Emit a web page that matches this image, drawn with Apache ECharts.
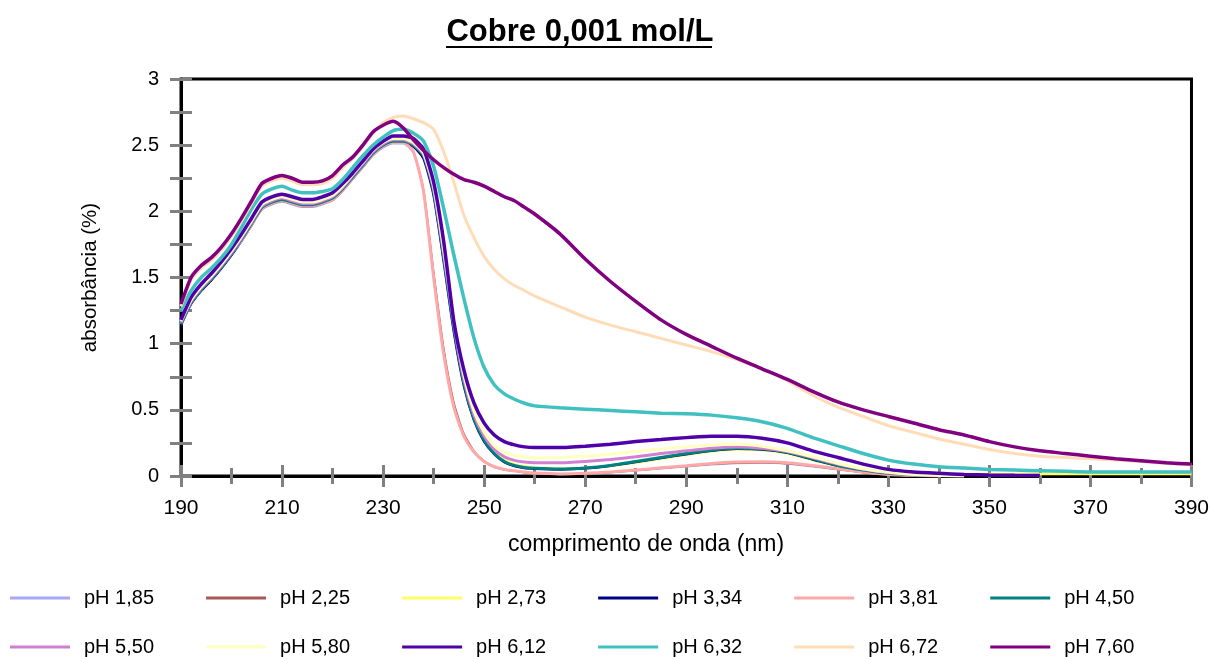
<!DOCTYPE html>
<html><head><meta charset="utf-8">
<script src="https://cdn.jsdelivr.net/npm/echarts@6/dist/echarts.min.js"></script>
<style>html,body{margin:0;padding:0;background:#fff}#c{width:1212px;height:657px}</style>
</head><body><div id="c"></div>
<script>
const wavelengths = [190,192,194,196,198,200,202,204,206,208,210,212,214,216,218,220,222,224,226,228,230,232,234,236,238,240,242,244,246,248,250,252,254,256,258,260,265,270,275,280,285,290,295,300,305,310,315,320,325,330,335,340,345,350,355,360,365,370,375,380,385,390];
const seriesNames = ['pH 1,85','pH 2,25','pH 2,73','pH 3,34','pH 3,81','pH 4,50','pH 5,50','pH 5,80','pH 6,12','pH 6,32','pH 6,72','pH 7,60'];
const ph185 = [1.14,1.30,1.40,1.48,1.57,1.67,1.77,1.89,2.01,2.05,2.07,2.05,2.03,2.03,2.05,2.08,2.15,2.24,2.33,2.42,2.48,2.51,2.51,2.44,2.16,1.53,0.95,0.54,0.31,0.18,0.11,0.065,0.045,0.035,0.025,0.018,0.012,0.015,0.025,0.04,0.055,0.07,0.085,0.095,0.098,0.09,0.07,0.048,0.025,0.01,0.002,0];
const ph225 = [1.15,1.30,1.40,1.48,1.57,1.67,1.78,1.90,2.02,2.06,2.08,2.06,2.04,2.04,2.06,2.09,2.16,2.25,2.34,2.43,2.49,2.52,2.52,2.45,2.17,1.55,0.97,0.56,0.32,0.19,0.115,0.07,0.048,0.037,0.027,0.02,0.014,0.017,0.027,0.042,0.058,0.073,0.088,0.098,0.10,0.092,0.073,0.05,0.027,0.011,0.003,0];
const ph273 = [1.16,1.32,1.42,1.50,1.59,1.69,1.80,1.92,2.04,2.08,2.10,2.08,2.06,2.06,2.08,2.11,2.18,2.27,2.36,2.45,2.51,2.54,2.54,2.51,2.44,2.18,1.70,1.16,0.73,0.45,0.29,0.18,0.12,0.09,0.072,0.062,0.055,0.06,0.075,0.10,0.13,0.16,0.185,0.20,0.195,0.17,0.12,0.075,0.045,0.028,0.02,0.016,0.015,0.015,0.015,0.015,0.015,0.015,0.015,0.015,0.015,0.015];
const ph334 = [1.14,1.30,1.40,1.48,1.57,1.67,1.78,1.90,2.02,2.06,2.08,2.06,2.04,2.04,2.06,2.09,2.16,2.25,2.34,2.43,2.49,2.52,2.52,2.49,2.40,2.12,1.62,1.09,0.68,0.42,0.26,0.165,0.105,0.075,0.06,0.055,0.05,0.058,0.078,0.105,0.135,0.165,0.19,0.205,0.20,0.175,0.125,0.078,0.042,0.018,0.006,0.001,0];
const ph381 = [1.15,1.31,1.41,1.49,1.58,1.68,1.78,1.90,2.02,2.06,2.08,2.06,2.04,2.04,2.06,2.09,2.16,2.25,2.34,2.43,2.49,2.52,2.52,2.45,2.15,1.50,0.92,0.52,0.30,0.18,0.11,0.07,0.05,0.04,0.03,0.022,0.016,0.02,0.03,0.045,0.062,0.078,0.095,0.105,0.108,0.10,0.08,0.055,0.03,0.012,0.004,0];
const ph450 = [1.15,1.31,1.41,1.49,1.58,1.68,1.79,1.91,2.03,2.07,2.09,2.07,2.05,2.05,2.07,2.10,2.17,2.26,2.35,2.44,2.50,2.53,2.53,2.50,2.42,2.15,1.65,1.12,0.70,0.43,0.27,0.17,0.11,0.08,0.065,0.058,0.052,0.06,0.08,0.11,0.14,0.17,0.195,0.21,0.205,0.18,0.13,0.08,0.045,0.02,0.008,0.002,0];
const ph550 = [1.16,1.32,1.42,1.50,1.59,1.69,1.80,1.92,2.04,2.08,2.10,2.08,2.06,2.06,2.08,2.11,2.18,2.27,2.36,2.45,2.51,2.54,2.54,2.51,2.43,2.17,1.68,1.15,0.73,0.46,0.30,0.20,0.145,0.118,0.105,0.10,0.10,0.11,0.125,0.145,0.17,0.19,0.21,0.22,0.21,0.185,0.14,0.09,0.05,0.025,0.01,0.003,0];
const ph580 = [1.17,1.33,1.43,1.51,1.60,1.70,1.81,1.93,2.05,2.09,2.11,2.09,2.07,2.07,2.09,2.12,2.19,2.28,2.37,2.46,2.52,2.55,2.55,2.52,2.44,2.19,1.71,1.18,0.76,0.49,0.33,0.23,0.18,0.155,0.142,0.136,0.14,0.15,0.165,0.185,0.205,0.22,0.235,0.24,0.225,0.19,0.145,0.095,0.055,0.028,0.012,0.004,0];
const ph612 = [1.18,1.35,1.45,1.53,1.62,1.72,1.83,1.95,2.07,2.11,2.13,2.11,2.09,2.09,2.11,2.14,2.21,2.29,2.38,2.47,2.53,2.57,2.57,2.55,2.47,2.22,1.77,1.17,0.80,0.55,0.40,0.31,0.26,0.235,0.22,0.215,0.215,0.225,0.24,0.26,0.275,0.29,0.30,0.30,0.285,0.25,0.19,0.14,0.09,0.05,0.03,0.02,0.012,0.008,0.005,0.003];
const ph632 = [1.25,1.40,1.50,1.57,1.65,1.75,1.88,2.02,2.13,2.17,2.19,2.16,2.14,2.14,2.15,2.17,2.24,2.33,2.42,2.50,2.56,2.61,2.62,2.59,2.53,2.34,2.02,1.67,1.34,1.04,0.82,0.69,0.62,0.58,0.55,0.53,0.515,0.505,0.495,0.485,0.475,0.47,0.46,0.44,0.41,0.36,0.29,0.23,0.17,0.12,0.09,0.07,0.06,0.05,0.045,0.04,0.035,0.03,0.03,0.03,0.03,0.03];
const ph672 = [1.28,1.48,1.57,1.63,1.71,1.81,1.93,2.06,2.19,2.23,2.25,2.23,2.20,2.20,2.21,2.25,2.33,2.40,2.49,2.59,2.67,2.71,2.72,2.70,2.67,2.62,2.45,2.22,1.97,1.80,1.66,1.56,1.49,1.44,1.40,1.36,1.28,1.20,1.14,1.09,1.04,0.99,0.94,0.88,0.81,0.72,0.61,0.52,0.45,0.38,0.33,0.28,0.24,0.20,0.17,0.15,0.14,0.13,0.12,0.11,0.095,0.085];
const ph760 = [1.30,1.50,1.59,1.65,1.73,1.83,1.95,2.08,2.21,2.25,2.27,2.25,2.22,2.22,2.23,2.27,2.35,2.41,2.50,2.60,2.65,2.68,2.63,2.54,2.46,2.39,2.33,2.28,2.24,2.22,2.19,2.15,2.11,2.08,2.03,1.98,1.83,1.64,1.47,1.32,1.18,1.07,0.98,0.89,0.81,0.73,0.64,0.56,0.50,0.45,0.40,0.35,0.31,0.26,0.22,0.19,0.17,0.15,0.13,0.115,0.10,0.09];
const xTickLabels = [190,210,230,250,270,290,310,330,350,370,390];
const yTickLabels = [0,0.5,1,1.5,2,2.5,3];

const values = [ph185,ph225,ph273,ph334,ph381,ph450,ph550,ph580,ph612,ph632,ph672,ph760];
const colors = ['#a8a8f8','#a85858','#ffff66','#000080','#ffa8a8','#008080','#d080d0','#ffffc0','#5000a8','#40c0c0','#ffdcb8','#800080'];
const widths = [1.5,1.5,2.5,2.5,3,3,3,3,3.5,3.5,3,3.5];

const series = values.map((arr, i) => ({
  name: seriesNames[i], type: 'line', xAxisIndex: 0, yAxisIndex: 0,
  data: arr.map((v, j) => [wavelengths[j], v]),
  showSymbol: false, symbol: 'none', smooth: 0.2, color: colors[i],
  lineStyle: {width: widths[i], color: colors[i]}, emphasis: {disabled: true}, animation: false
}));

const font = 'Liberation Sans, Arial, sans-serif';
const xMin = xTickLabels[0], xMax = xTickLabels[xTickLabels.length-1];
const yMin = yTickLabels[0], yMax = yTickLabels[yTickLabels.length-1];
const xStep = xTickLabels[1]-xTickLabels[0], yStep = yTickLabels[1]-yTickLabels[0];

function xAx(inside, main) {
  return {type:'value', min:xMin, max:xMax, interval:xStep, position:'bottom',
    axisLine:{show:main, onZero:false, lineStyle:{color:'#000', width:3}},
    axisTick:{show:true, inside:inside, length:11, lineStyle:{color:'#808080', width:3}},
    minorTick:{show:true, splitNumber:2, length:8, lineStyle:{color:'#808080', width:3}},
    axisLabel:{show:main, margin:22, color:'#000', fontSize:21, fontFamily:font},
    splitLine:{show:false}};
}
function yAx(inside, main) {
  return {type:'value', min:yMin, max:yMax, interval:yStep, position:'left',
    axisLine:{show:main, onZero:false, lineStyle:{color:'#000', width:3}},
    axisTick:{show:true, inside:inside, length:11, lineStyle:{color:'#808080', width:3}},
    minorTick:{show:true, splitNumber:2, length:11, lineStyle:{color:'#808080', width:3}},
    axisLabel:{show:main, margin:22, color:'#000', fontSize:20, fontFamily:font},
    splitLine:{show:false},
    name: main ? 'absorbância (%)' : '', nameLocation:'middle', nameGap:80,
    nameTextStyle:{color:'#000', fontSize:20.5, fontFamily:font}};
}

const legendCommon = {orient:'horizontal', left:5, itemWidth:60, itemHeight:3, itemGap:52, icon:'rect',
  textStyle:{color:'#000', fontSize:20, fontFamily:font, padding:[0,0,0,9]}, selectedMode:false};

const chart = echarts.init(document.getElementById('c'), null, {renderer:'canvas'});
chart.setOption({
  animation:false,
  backgroundColor:'#fff',
  title:{text:'Cobre 0,001 mol/L', left:575, top:12, textAlign:'center',
    textStyle:{fontSize:31, fontWeight:'bold', color:'#000', fontFamily:font}},
  grid:{left:181, right:19, top:79, bottom:181, show:true, borderColor:'#000', borderWidth:3, backgroundColor:'transparent'},
  xAxis:[xAx(false, true), xAx(true, false)],
  yAxis:[yAx(false, true), yAx(true, false)],
  legend:[
    Object.assign({}, legendCommon, {top:583, data:seriesNames.slice(0,6)}),
    Object.assign({}, legendCommon, {top:632, data:seriesNames.slice(6)})
  ],
  graphic:[
    {type:'text', x:646, y:545, style:{text:'comprimento de onda (nm)', fill:'#000', fontSize:23, fontFamily:font, textAlign:'center', textVerticalAlign:'middle'}},
    {type:'line', shape:{x1:446, y1:47, x2:712, y2:47}, style:{stroke:'#000', lineWidth:2}}
  ],
  series: series
});
</script>
</body></html>
